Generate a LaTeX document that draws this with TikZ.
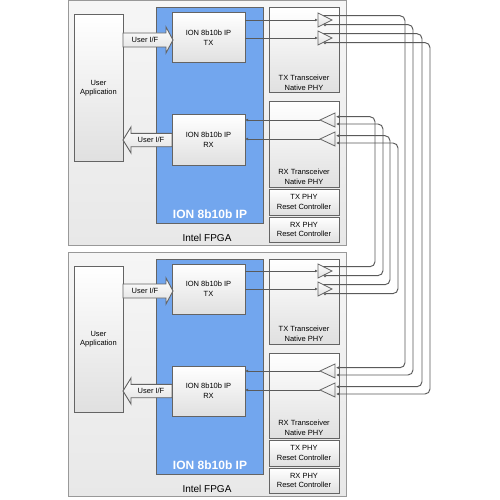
\documentclass[tikz,border=0pt]{standalone}
\usepackage{fontspec}
\setmainfont{Liberation Sans}
\usetikzlibrary{arrows.meta,calc}
\definecolor{edgegray}{HTML}{646464}
\definecolor{linegray}{HTML}{5A5A5A}
\definecolor{fpgatop}{HTML}{F6F6F6}
\definecolor{fpgabot}{HTML}{E8E8E8}
\definecolor{ipblue}{HTML}{72A6EE}
\definecolor{boxbot}{HTML}{E0E0E0}
\tikzset{
  fpgabox/.style={draw=black!40, line width=1pt, top color=fpgatop, bottom color=fpgabot},
  plainbox/.style={draw=edgegray, line width=1pt, top color=white, bottom color=boxbot},
  bluebox/.style={draw=edgegray, line width=1pt, fill=ipblue},
  lbl/.style={font=\fontsize{7.5}{9.5}\selectfont, align=center, inner sep=0pt, text=black},
  wire/.style={draw=linegray, line width=0.95pt, rounded corners=5pt},
  tipend/.style={-{Latex[length=3pt,width=2.8pt]}},
  bufshape/.style={draw=edgegray, line width=0.8pt, top color=white, bottom color=boxbot},
  fatarrow/.style={draw=edgegray, line width=0.9pt, top color=white, bottom color=boxbot, line join=miter},
}
\newcommand\rbox[6]{%
  \node[#1, minimum width={(#5-#3)*1pt}, minimum height={(#6-#4)*1pt}, inner sep=0pt, outer sep=0pt, anchor=north west] (#2) at (#3,#4) {};}
\newcommand\ionblock[2]{%
\begin{scope}[yshift=-#2pt]
  \rbox{fpgabox}{fpga#1}{68}{1}{346}{245}
  \rbox{plainbox}{ua#1}{74}{15}{123}{161}
  \rbox{bluebox}{ip#1}{156}{8}{263}{223}
  \rbox{plainbox}{txip#1}{172}{13}{245}{63}
  \rbox{plainbox}{rxip#1}{172}{115}{245}{165}
  \rbox{plainbox}{txphy#1}{269}{8}{339}{93}
  \rbox{plainbox}{rxphy#1}{269}{102}{339}{187}
  \rbox{plainbox}{txrst#1}{269}{189}{339}{215}
  \rbox{plainbox}{rxrst#1}{269}{217}{339}{242}
  \node[lbl] (ualbl#1) at (ua#1.center) {User\\Application};
  \node[lbl] (txiplbl#1) at (txip#1.center) {ION 8b10b IP\\TX};
  \node[lbl] (rxiplbl#1) at (rxip#1.center) {ION 8b10b IP\\RX};
  \node[lbl] (txphylbl#1) at (304,83) {TX Transceiver\\Native PHY};
  \node[lbl] (rxphylbl#1) at (304,177) {RX Transceiver\\Native PHY};
  \node[lbl] (txrstlbl#1) at (txrst#1.center) {TX PHY\\Reset Controller};
  \node[lbl] (rxrstlbl#1) at (rxrst#1.center) {RX PHY\\Reset Controller};
  \node[font=\bfseries\fontsize{12}{14}\selectfont, text=white, inner sep=0pt] (iplbl#1) at (210,214) {ION 8b10b IP};
  \node[font=\fontsize{10}{12}\selectfont, text=black, inner sep=0pt] (fpgalbl#1) at (207,238) {Intel FPGA};
  % User I/F arrows
  \draw[fatarrow] (123,33) -- (166,33) -- (166,27) -- (173,40) -- (166,53) -- (166,47) -- (123,47) -- cycle;
  \node[lbl] (uiftx#1) at (145,40) {User I/F};
  \draw[fatarrow] (172,133.3) -- (131,133.3) -- (131,127) -- (123,140) -- (131,153) -- (131,146.7) -- (172,146.7) -- cycle;
  \node[lbl] (uifrx#1) at (151,140) {User I/F};
  % TX buffers
  \draw[bufshape] (318,13) -- (332,20) -- (318,27) -- cycle;
  \draw[bufshape] (325,24.6) circle (1.1);
  \draw[bufshape] (318,31) -- (332,38) -- (318,45) -- cycle;
  \draw[bufshape] (325,42.6) circle (1.1);
  \coordinate (tbin1#1) at (318,20);
  \coordinate (tbin2#1) at (318,38);
  \coordinate (txa#1) at (323.4,15.7);
  \coordinate (txb#1) at (326.1,24.6);
  \coordinate (txc#1) at (323.4,33.7);
  \coordinate (txd#1) at (326.1,42.6);
  % RX buffers
  \draw[bufshape] (335,113) -- (320,120) -- (335,127) -- cycle;
  \draw[bufshape] (335,132) -- (320,139) -- (335,146) -- cycle;
  \coordinate (rbout1#1) at (320,120);
  \coordinate (rbout2#1) at (320,139);
  \coordinate (rxa#1) at (336,116.7);
  \coordinate (rxb#1) at (336,124);
  \coordinate (rxc#1) at (336,135.7);
  \coordinate (rxd#1) at (336,143);
  % short wires
  \draw[wire,tipend] (txip#1.east |- tbin1#1) -- (tbin1#1);
  \draw[wire,tipend] (txip#1.east |- tbin2#1) -- (tbin2#1);
  \draw[wire,tipend] (rbout1#1) -- (rxip#1.east |- rbout1#1);
  \draw[wire,tipend] (rbout2#1) -- (rxip#1.east |- rbout2#1);
\end{scope}}
\begin{document}
\begin{tikzpicture}[x=1pt,y=-1pt]
\useasboundingbox (0,0) rectangle (500,500);
\fill[white] (0,0) rectangle (500,500);
\ionblock{T}{0}
\ionblock{B}{251}
\coordinate (c375) at (375,0);
\coordinate (c383) at (383,0);
\coordinate (c390) at (390,0);
\coordinate (c398) at (398,0);
\coordinate (c405) at (405,0);
\coordinate (c413) at (413,0);
\coordinate (c422) at (422,0);
\coordinate (c430) at (430,0);
% top TX -> bottom RX
\draw[wire,tipend] (txaT) -| (rxaB -| c405) -- (rxaB);
\draw[wire,tipend] (txbT) -| (rxbB -| c413) -- (rxbB);
\draw[wire,tipend] (txcT) -| (rxcB -| c422) -- (rxcB);
\draw[wire,tipend] (txdT) -| (rxdB -| c430) -- (rxdB);
% bottom TX -> top RX
\draw[wire,tipend] (txaB) -| (rxaT -| c375) -- (rxaT);
\draw[wire,tipend] (txbB) -| (rxbT -| c383) -- (rxbT);
\draw[wire,tipend] (txcB) -| (rxcT -| c390) -- (rxcT);
\draw[wire,tipend] (txdB) -| (rxdT -| c398) -- (rxdT);
\end{tikzpicture}
\end{document}
